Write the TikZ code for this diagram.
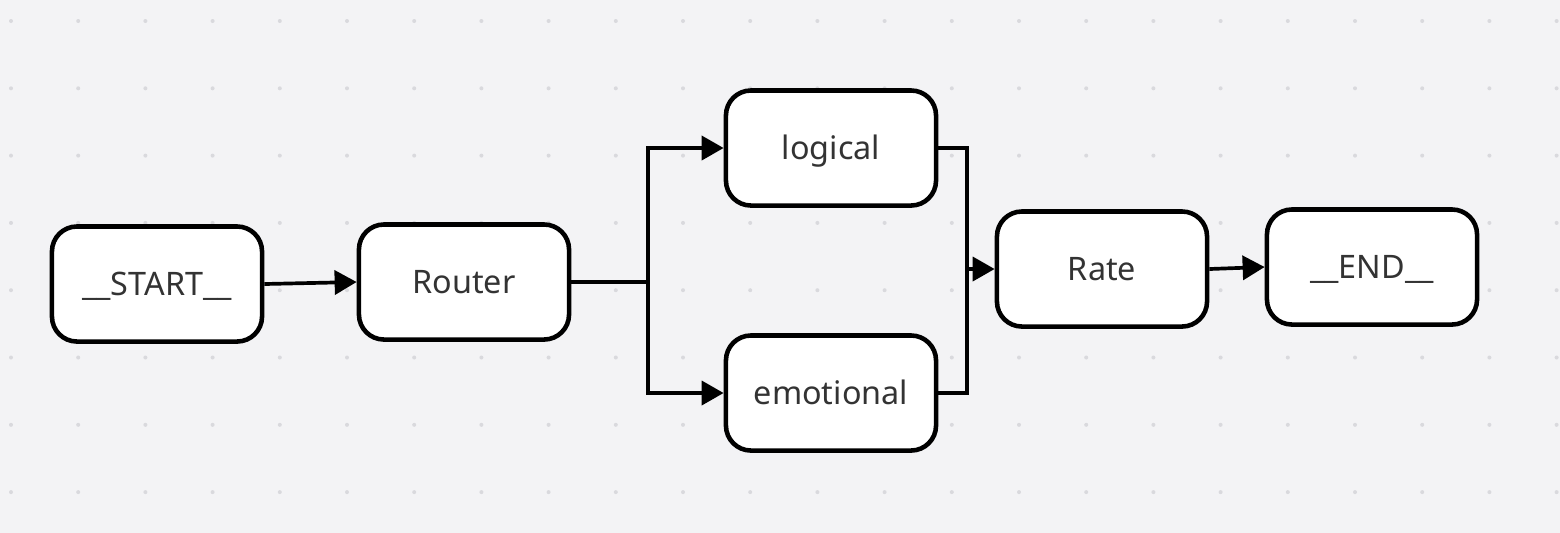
\documentclass[tikz,border=0pt]{standalone}
\usepackage{fontspec}
\setmainfont{Noto Sans}
\usepackage{tikz}
\usetikzlibrary{arrows.meta}

\definecolor{canvas}{HTML}{F3F3F5}
\definecolor{griddot}{HTML}{D9D9DD}
\definecolor{labeltext}{HTML}{333333}

\tikzset{
  box/.style={draw=black, line width=1.3pt, fill=white, rounded corners=0.25cm,
    minimum width=2.1cm, minimum height=1.15cm, inner sep=0pt,
    text height=0.22cm, text depth=0cm,
    text=labeltext, font=\fontsize{9.2pt}{11pt}\selectfont},
  flow/.style={line width=1.05pt, black},
  arr/.style={flow, -{Triangle[length=0.22cm,width=0.24cm]}}
}

\begin{document}
\begin{tikzpicture}[x=0.01cm, y=-0.01cm]
    % canvas and dot grid
    \useasboundingbox (0,0) rectangle (1560,532);
    \fill[canvas] (-10,-10) rectangle (1570,542);
    \foreach \i in {0,...,23} {
      \foreach \j in {0,...,7} {
        \fill[griddot] (11+67.2*\i, 21+67.3*\j) circle (2);
      }
    }

    \node[box] (start)     at (157,284) {\_\_START\_\_};
    \node[box] (router)    at (464,282) {Router};
    \node[box] (logical)   at (831,148) {logical};
    \node[box] (emotional) at (831,393) {emotional};
    \node[box] (rate)      at (1102,269) {Rate};
    \node[box] (finish)    at (1372,267) {\_\_END\_\_};

    \coordinate (split) at (648,282);
    \coordinate (merge) at (967,269);

    \draw[arr] (start.east) -- (router.west);
    \draw[flow] (router.east) -- (split);
    \draw[arr] (split) |- (logical.west);
    \draw[arr] (split) |- (emotional.west);
    \draw[flow] (logical.east) -| (merge);
    \draw[flow] (emotional.east) -| (merge);
    \draw[arr] (merge) -- (rate.west);
    \draw[arr] (rate.east) -- (finish.west);
\end{tikzpicture}
\end{document}
